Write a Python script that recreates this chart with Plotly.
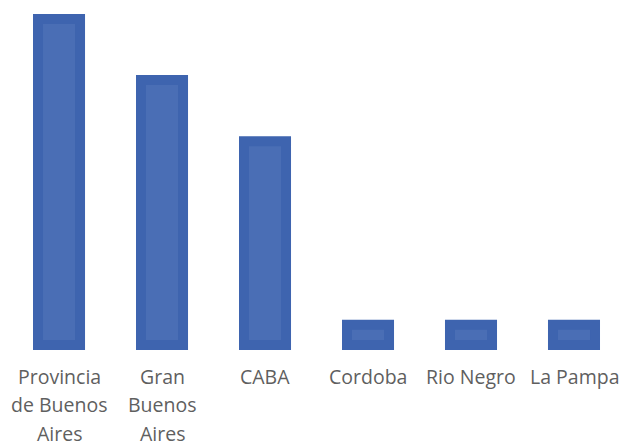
import plotly.graph_objects as go

labels = [["Provincia", "de Buenos", "Aires"], ["Gran", "Buenos", "Aires"], ["CABA"], ["Cordoba"], ["Rio Negro"], ["La Pampa"]]
values = [16, 13, 10, 1, 1, 1]

x = list(range(len(labels)))

fig = go.Figure(
    go.Bar(
        x=x,
        y=values,
        width=0.408,
        marker=dict(color="#4A6EB5", line=dict(color="#3E64AF", width=10)),
    )
)

annotations = []
for i, lines in enumerate(labels):
    for j, line in enumerate(lines):
        annotations.append(dict(
            x=i, y=0, xref="x", yref="y",
            text=line, showarrow=False,
            xanchor="center", yanchor="middle",
            yshift=-(31 + 28.5 * j),
            font=dict(family="Open Sans", size=19.5, color="#5F5F5F"),
        ))

fig.update_layout(
    width=622,
    height=443,
    margin=dict(l=0, r=0, t=0, b=93),
    paper_bgcolor="white",
    plot_bgcolor="white",
    showlegend=False,
    annotations=annotations,
    xaxis=dict(
        range=[-0.573, 5.466],
        showticklabels=False,
        showgrid=False,
        zeroline=False,
        showline=False,
        ticks="",
    ),
    yaxis=dict(
        range=[-0.245, 16.93],
        visible=False,
        showgrid=False,
        zeroline=False,
    ),
)

fig.write_html("out.html")
